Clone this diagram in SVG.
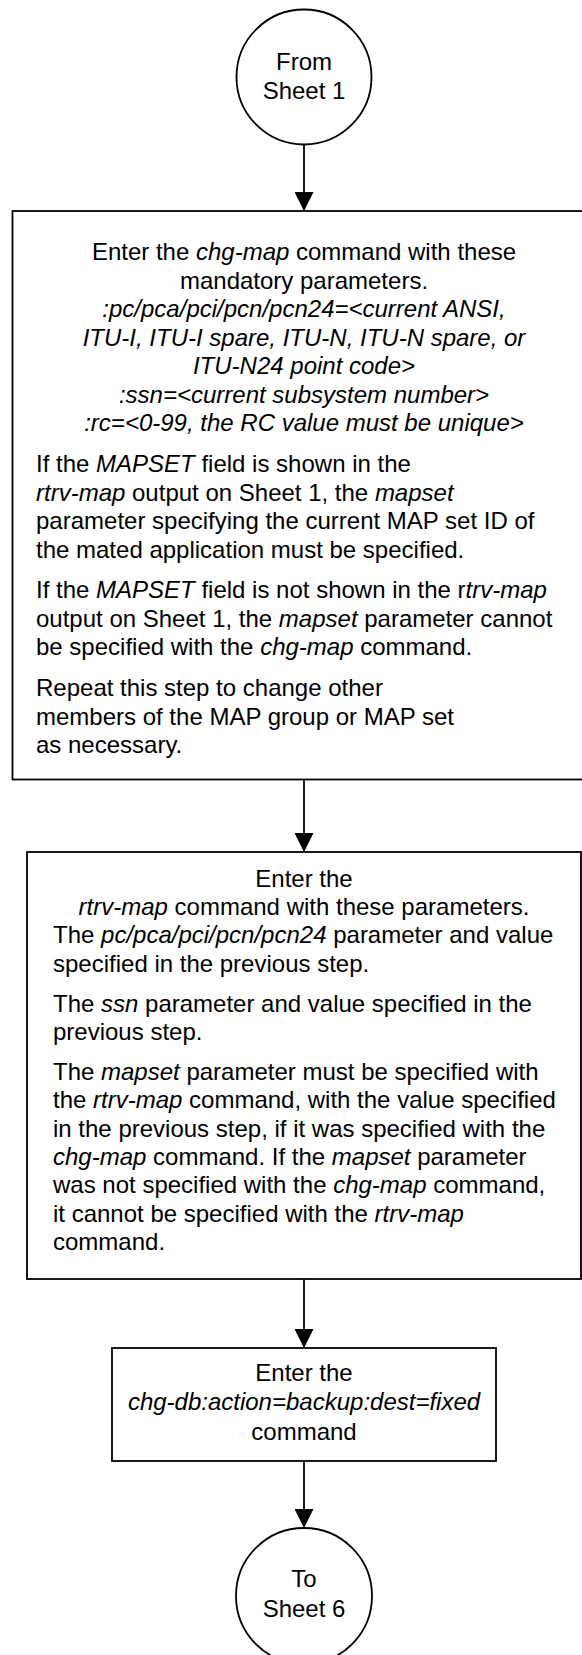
<svg xmlns="http://www.w3.org/2000/svg" width="582" height="1655" viewBox="0 0 582 1655">
<style>
.shape{fill:#fff;stroke:#000;stroke-width:1.8}
.t{font-family:"Liberation Sans",Arial,Helvetica,sans-serif;font-size:24px;fill:#000}
.c{text-anchor:middle}
.i{font-style:italic}
.edge{stroke:#000;stroke-width:1.8;fill:none;marker-end:url(#ah)}
</style>
<defs>
<marker id="ah" markerUnits="userSpaceOnUse" markerWidth="19" markerHeight="19" refX="19" refY="9.5" orient="auto">
<path d="M0,0 L19,9.5 L0,19 z" fill="#000"/>
</marker>
</defs>
<g id="connectors">
<line class="edge" x1="304" y1="144.5" x2="304" y2="211"/>
<line class="edge" x1="304" y1="779.5" x2="304" y2="852"/>
<line class="edge" x1="304" y1="1279" x2="304" y2="1348"/>
<line class="edge" x1="304" y1="1461" x2="304" y2="1528"/>
</g>
<g id="from-sheet-1">
<circle class="shape" cx="304" cy="77" r="67.5"/>
<text class="t c" x="304" y="70">From</text>
<text class="t c" x="304" y="99">Sheet 1</text>
</g>
<g id="chg-map-step">
<rect class="shape" x="12.5" y="211" width="583" height="568.5"/>
<text class="t c" x="304" y="260">Enter the <tspan class="i">chg-map</tspan> command with these</text>
<text class="t c" x="304" y="288.5">mandatory parameters.</text>
<text class="t c i" x="304" y="317">:pc/pca/pci/pcn/pcn24=&lt;current ANSI,</text>
<text class="t c i" x="304" y="345.5">ITU-I, ITU-I spare, ITU-N, ITU-N spare, or</text>
<text class="t c i" x="304" y="374">ITU-N24 point code&gt;</text>
<text class="t c i" x="304" y="402.5">:ssn=&lt;current subsystem number&gt;</text>
<text class="t c i" x="304" y="431">:rc=&lt;0-99, the RC value must be unique&gt;</text>
<text class="t" x="36" y="472">If the <tspan class="i">MAPSET</tspan> field is shown in the</text>
<text class="t" x="36" y="500.5"><tspan class="i">rtrv-map</tspan> output on Sheet 1, the <tspan class="i">mapset</tspan></text>
<text class="t" x="36" y="529">parameter specifying the current MAP set ID of</text>
<text class="t" x="36" y="557.5">the mated application must be specified.</text>
<text class="t" x="36" y="598">If the <tspan class="i">MAPSET</tspan> field is not shown in the r<tspan class="i">trv-map</tspan></text>
<text class="t" x="36" y="626.5">output on Sheet 1, the <tspan class="i">mapset</tspan> parameter cannot</text>
<text class="t" x="36" y="655">be specified with the <tspan class="i">chg-map</tspan> command.</text>
<text class="t" x="36" y="696">Repeat this step to change other</text>
<text class="t" x="36" y="724.5">members of the MAP group or MAP set</text>
<text class="t" x="36" y="753">as necessary.</text>
</g>
<g id="rtrv-map-step">
<rect class="shape" x="27" y="852" width="554" height="427"/>
<text class="t c" x="304" y="887">Enter the</text>
<text class="t c" x="304" y="915"><tspan class="i">rtrv-map</tspan> command with these parameters.</text>
<text class="t" x="53" y="943">The <tspan class="i">pc/pca/pci/pcn/pcn24</tspan> parameter and value</text>
<text class="t" x="53" y="971.5">specified in the previous step.</text>
<text class="t" x="53" y="1011.5">The <tspan class="i">ssn</tspan> parameter and value specified in the</text>
<text class="t" x="53" y="1040">previous step.</text>
<text class="t" x="53" y="1080">The <tspan class="i">mapset</tspan> parameter must be specified with</text>
<text class="t" x="53" y="1108">the <tspan class="i">rtrv-map</tspan> command, with the value specified</text>
<text class="t" x="53" y="1136.5">in the previous step, if it was specified with the</text>
<text class="t" x="53" y="1164.5"><tspan class="i">chg-map</tspan> command. If the <tspan class="i">mapset</tspan> parameter</text>
<text class="t" x="53" y="1193">was not specified with the <tspan class="i">chg-map</tspan> command,</text>
<text class="t" x="53" y="1221.5">it cannot be specified with the <tspan class="i">rtrv-map</tspan></text>
<text class="t" x="53" y="1250">command.</text>
</g>
<g id="backup-step">
<rect class="shape" x="112" y="1348" width="384" height="113"/>
<text class="t c" x="304" y="1381">Enter the</text>
<text class="t c i" x="304" y="1410">chg-db:action=backup:dest=fixed</text>
<text class="t c" x="304" y="1440">command</text>
</g>
<g id="to-sheet-6">
<circle class="shape" cx="304" cy="1596" r="68"/>
<text class="t c" x="304" y="1587">To</text>
<text class="t c" x="304" y="1617">Sheet 6</text>
</g>
</svg>
